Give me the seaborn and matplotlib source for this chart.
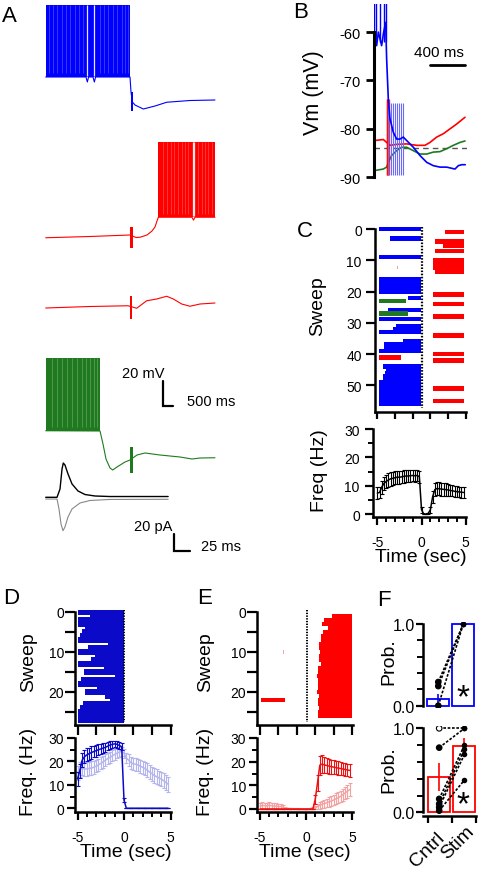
import numpy as np
import pandas as pd
import matplotlib
matplotlib.use("Agg")
import matplotlib.pyplot as plt
import seaborn as sns

# ============================ DATA ============================
# ---- Panel A: membrane potential traces (t = ms from stimulus, v = mV)
A_blue_t = [-4215, -2200, -2133, -2070, -1850, -1783, -1720, 0, 50, 120, 250, 665, 1250, 1835, 3000, 4250]
A_blue_v = [-60, -60, -64, -60, -60, -64, -60, -60, -72, -80, -82.4, -85.6, -83.2, -80.2, -78.8, -78.4]
A_red1_t = [-4215, -2000, 0, 300, 500, 850, 1100, 1250, 1350, 1415, 3100, 3175, 3250, 4250]
A_red1_v = [-83.6, -82.6, -81.4, -83.4, -83.2, -81.4, -78.2, -75.0, -70.2, -67.2, -67.2, -69.5, -67.2, -67.2]
A_red2_t = [-4215, -2000, -100, 335, 835, 1335, 1835, 2165, 2585, 3000, 3500, 4250]
A_red2_v = [-83.8, -82.6, -82.0, -84.0, -78.0, -76.6, -74.4, -76.6, -80.6, -82.4, -80.6, -79.8]
A_green_t = [-4215, -1500, -1350, -1200, -1000, -865, -650, -250, 0, 350, 750, 1500, 2500, 3100, 3500, 4250]
A_green_v = [-64.6, -64.8, -75.2, -87.2, -94.4, -96.0, -93.6, -89.6, -88.0, -84.0, -82.4, -84.0, -85.6, -87.2, -86.4, -86.2]
# spiking epochs: (start ms, end ms, trough mV, peak mV)
A_blue_spk = (-4215, 0, -60, -2)
A_red1_spk = (1415, 4250, -67.2, -7.2)
A_green_spk = (-4215, -1500, -64.6, -6.6)
# pauses between spikes (ms): clear and faint
A_blue_gap_strong = [-2133, -1783]
A_blue_gap_faint = [-4033, -3833, -3633, -3417, -3217, -3000, -2750, -2533, -2333, -1500, -1300, -1083, -833, -633, -417, -250, -117]
A_red1_gap_strong = [3133, 3217]
A_red1_gap_faint = [1667, 1833, 2033, 2200, 2417, 2583, 2750, 2917, 3417, 3583, 3750, 3917, 4083]
A_green_gap_faint = [-3917, -3667, -3417, -3167, -2917, -2667, -2417, -2200, -2000, -1800, -1633]
# stimulus artefacts: (start ms, end ms, low mV, high mV)
A_blue_art = (60, 150, -87.0, -72.0)
A_red1_art = (20, 150, -91.8, -75.0)
A_red2_art = (0, 120, -92.6, -74.0)
A_green_art = (20, 150, -98.4, -77.4)
# synaptic currents (t = ms, pA)
A_pscA_t = [0, 18, 22.8, 26, 28, 30.7, 35.5, 41.9, 51.4, 62.6, 78.5, 102, 195]
A_pscA_i = [0, 0, 9.6, 32.7, 39.6, 37.3, 27.0, 15.4, 7.3, 3.2, 1.5, 0.9, 0.9]
A_pscB_t = [0, 18, 21.2, 24.4, 27.5, 30.7, 35.5, 41.9, 54.6, 70.5, 102, 195]
A_pscB_i = [-2, -2, -13.5, -30.9, -38.6, -34.3, -22.8, -13.5, -6.6, -3.7, -2.5, -2.3]

# ---- Panel B: overlay (t = ms, v = mV)
B_blue_t = [0, 11, 30, 50, 87, 110, 133, 144, 163, 182, 220, 258, 296, 334, 372, 448, 524, 600, 676, 752, 828, 923, 961, 1000, 1040]
B_blue_v = [-60, -60, -62.8, -60, -62.8, -60, -58, -65.5, -73.8, -77.9, -80.7, -82.1, -82.1, -81.7, -82.4, -83.8, -85.5, -86.9, -87.6, -87.9, -87.9, -88.3, -87.6, -87.4, -87.4]
B_blue_spikes = [5, 19, 68, 118, 133]
B_red_t = [11, 106, 144, 182, 258, 372, 486, 581, 638, 714, 790, 866, 942, 1037]
B_red_v = [-82.4, -82.2, -82.8, -83.4, -83.2, -83.1, -83.4, -83.4, -82.8, -81.7, -81.0, -80.0, -79.0, -77.6]
B_green_t = [11, 106, 144, 163, 201, 258, 315, 372, 448, 524, 600, 676, 752, 828, 904, 980, 1037]
B_green_v = [-88.6, -88.3, -87.9, -86.9, -85.5, -84.5, -83.8, -83.8, -84.5, -85.2, -85.2, -84.8, -84.7, -84.1, -83.4, -82.8, -82.5]
B_stim_red = [144, 152, 160, 168]
B_stim_blue = [163, 190, 217, 239, 258, 288, 311, 334]
B_threshold = -84.0
B_yticks = [-90, -80, -70, -60]

# ---- Panel C raster: (sweep, start s, end s)
C_blue = [(0, -4.82, -0.05), (3, -3.62, -0.05), (9, -4.82, -0.05),
          (16, -4.82, -0.05), (17, -4.82, -0.05), (18, -4.82, -0.05), (19, -4.82, -0.05), (20, -4.82, -0.05),
          (22, -1.54, -0.05), (25.9, -3.8, -0.05), (28.8, -4.82, -0.05),
          (31, -2.86, -0.05), (32, -3.24, -0.05), (33, -4.82, -0.05),
          (35.8, -2.1, -0.05), (36.9, -4.26, -0.05), (38, -4.26, -0.05), (39, -4.82, -0.05),
          (44, -4.4, -0.05), (45, -4.0, -0.05), (46, -4.1, -0.05), (47, -4.4, -0.05), (48, -4.4, -0.05),
          (49, -4.82, -0.05), (50, -4.82, -0.05), (51, -4.82, -0.05), (52, -4.82, -0.05), (53, -4.82, -0.05),
          (54, -4.82, -0.05), (55, -4.82, -0.05), (56, -4.82, -0.05)]
C_green = [(23, -4.82, -1.73), (27, -4.82, -1.54)]
C_red = [(41, -4.82, -2.37),
         (1, 2.6, 4.86), (4, 1.58, 4.86), (5.4, 2.41, 4.86), (7, 1.58, 4.86), (10, 1.28, 4.86),
         (11.3, 1.28, 4.86), (12.5, 1.3, 4.86), (13.7, 1.58, 4.86), (21, 1.28, 4.86), (24, 1.28, 4.86),
         (28, 1.28, 4.86), (34, 1.28, 4.86), (40, 1.28, 4.86), (42, 1.28, 4.86), (51, 1.28, 4.86), (55, 1.28, 4.86)]
C_pink = [(12.3, -2.75)]

# ---- Panel D raster: spike-train start per sweep (ends at stimulus)
D_start = [-4.95, -3.7, -4.95, -4.95, -4.2, -4.55, -4.75, -4.95, -1.7, -3.9, -4.95, -3.1, -3.6, -4.95,
           -2.2, -4.3, -0.97, -4.6, -4.95, -2.9, -4.2, -2.04, -1.5, -4.37, -4.7, -4.95, -4.95, -4.95]
# ---- Panel E raster: spike-train start per sweep 1..26 (ends at 5 s)
E_start = [2.8, 2.0, 1.7, 2.4, 1.9, 1.6, 1.6, 1.4, 1.4, 1.5, 1.4, 1.4, 1.6, 1.3, 1.3, 1.2, 1.3,
           1.3, 1.3, 1.2, 1.4, 1.3, 1.3, 1.4, 1.3, 1.3]
E_left = [(22, -4.9, -2.3)]
E_pink = [(10, -2.55)]

# ---- Frequency histograms (0.25 s bins from -5 s)
FREQ_T = np.arange(-5.0, 5.0, 0.25)
C_freq = [7.4, 7.6, 9.5, 10.8, 11.5, 12.0, 12.4, 12.6, 12.8, 13.0, 13.0, 13.1, 13.3, 13.4, 13.4, 13.5, 13.6, 13.5, 13.6, 13.2,
          1.5, 0.0, 0.0, 0.2, 1.5, 6.0, 8.6, 9.0, 8.9, 8.8, 8.7, 8.6, 8.5, 8.3, 8.2, 8.0, 7.9, 7.8, 7.7, 7.6]
C_err = [2.0, 2.1, 2.3, 2.4, 2.4, 2.4, 2.4, 2.3, 2.3, 2.3, 2.3, 2.2, 2.2, 2.2, 2.2, 2.1, 2.1, 2.1, 2.1, 2.1,
         1.0, 0.0, 0.0, 0.3, 1.0, 2.0, 2.4, 2.4, 2.3, 2.3, 2.2, 2.2, 2.1, 2.1, 2.0, 2.0, 2.0, 1.9, 1.9, 1.9]
D_stim = [12.5, 16.0, 20.5, 22.0, 22.8, 23.3, 23.8, 24.2, 24.6, 25.0, 25.3, 25.7, 26.0, 26.5, 27.0, 27.3, 27.5, 27.3, 26.8, 26.3,
          3.5, 0, 0, 0, 0, 0, 0, 0, 0, 0, 0, 0, 0, 0, 0, 0, 0, 0, 0, 0]
D_stim_err = [2.8, 3.0, 3.0, 2.8, 2.8, 2.6, 2.6, 2.5, 2.5, 2.4, 2.3, 2.2, 2.0, 1.8, 1.6, 1.5, 1.4, 1.4, 1.5, 1.6,
              0.9, 0, 0, 0, 0, 0, 0, 0, 0, 0, 0, 0, 0, 0, 0, 0, 0, 0, 0, 0]
D_ctrl = [15.0, 16.5, 17.0, 16.8, 16.8, 17.0, 17.2, 17.5, 18.0, 18.5, 19.2, 19.8, 20.5, 21.2, 21.8, 22.4, 23.0, 23.5, 24.0, 24.2,
          23.5, 21.5, 20.5, 19.5, 19.0, 18.8, 18.5, 18.0, 17.5, 17.0, 16.3, 15.5, 14.8, 14.0, 13.5, 13.0, 12.5, 11.8, 11.0, 10.3]
D_ctrl_err = [3.0, 3.2, 3.0, 2.9, 2.9, 2.8, 2.8, 2.8, 2.7, 2.7, 2.6, 2.6, 2.5, 2.5, 2.4, 2.3, 2.2, 2.1, 2.0, 2.0,
              2.0, 2.3, 2.5, 2.6, 2.6, 2.7, 2.7, 2.8, 2.8, 2.9, 2.9, 3.0, 3.0, 3.0, 3.1, 3.1, 3.1, 3.2, 3.2, 3.2]
E_stim = [0, 0, 0, 0, 0, 0, 0, 0, 0, 0, 0, 0, 0, 0, 0, 0, 0, 0, 0, 0, 0, 0, 0, 0,
          4.0, 11.0, 18.5, 19.0, 18.6, 18.4, 18.1, 17.9, 17.7, 17.5, 17.3, 17.1, 16.9, 16.7, 16.5, 16.3]
E_stim_err = [0, 0, 0, 0, 0, 0, 0, 0, 0, 0, 0, 0, 0, 0, 0, 0, 0, 0, 0, 0, 0, 0, 0, 0,
              2.0, 3.5, 4.0, 3.8, 3.5, 3.3, 3.2, 3.0, 3.0, 2.9, 2.8, 2.8, 2.7, 2.7, 2.6, 2.6]
E_ctrl = [1.2, 1.5, 1.4, 1.3, 1.6, 1.4, 1.2, 1.3, 1.0, 1.1, 0.8, 0.4, 0.2, 0.2, 0.1, 0.1, 0.1, 0.0, 0.0, 0.0,
          0.0, 0.0, 0.2, 0.3, 0.5, 1.0, 1.5, 2.0, 2.3, 2.6, 3.0, 3.3, 3.8, 4.3, 4.8, 5.3, 6.0, 6.8, 7.5, 8.2]
E_ctrl_err = [1.2, 1.3, 1.3, 1.2, 1.4, 1.3, 1.2, 1.2, 1.0, 1.0, 0.8, 0.5, 0.3, 0.3, 0.2, 0.2, 0.2, 0, 0, 0,
              0, 0, 0.3, 0.4, 0.6, 1.0, 1.3, 1.5, 1.7, 1.8, 2.0, 2.1, 2.2, 2.3, 2.4, 2.5, 2.6, 2.7, 2.8, 2.9]

# ---- Panel F: probabilities
F_cats = ["Cntrl", "Stim"]
F_top_mean = [0.08, 1.0]
F_top_err = [0.06, 0.0]
F_top_ctrl = [0.29, 0.24, 0.0]
F_top_stim = [1.0, 1.0, 1.0]
F_bot_mean = [0.42, 0.79]
F_bot_err = [0.17, 0.09]
F_bot_ctrl = [1.0, 0.77, 0.16, 0.10, 0.06, 0.02]
F_bot_stim = [1.0, 1.0, 0.80, 0.75, 0.69, 0.385]

# ============================ STYLE ============================
BLUE, RED, GREEN = "#0000ff", "#ff0000", "#1f7a1f"
DBLUE, LBLUE = "#0a0ac8", "#b5b5ee"
DRED, LRED = "#ee1111", "#f4a3a3"

sns.set_theme(style="ticks")
plt.rcParams['font.family'] = ['Liberation Sans', 'DejaVu Sans']
plt.rcParams['axes.unicode_minus'] = False

W, H = 482, 870
fig = plt.figure(figsize=(W / 100, H / 100), dpi=100)
fig.patch.set_facecolor('white')


def R(x0, y0, x1, y1):
    return [x0 / W, 1 - y1 / H, (x1 - x0) / W, (y1 - y0) / H]


def T(x, y, s, size=14, rot=0, ha='center', va='center', **kw):
    fig.text(x / W, 1 - y / H, s, fontsize=size, rotation=rot, ha=ha, va=va, color='black', **kw)


def style(ax, spines=('left', 'bottom'), lw=1.6):
    ax.set_facecolor('none')
    for k, sp in ax.spines.items():
        sp.set_visible(k in spines)
        sp.set_linewidth(lw)
        sp.set_color('black')
    ax.grid(False)
    ax.set_xlabel('')
    ax.set_ylabel('')
    ax.tick_params(which='major', direction='out', length=5.5, width=1.4,
                   color='black', labelcolor='black', labelsize=10, pad=2)
    ax.tick_params(which='minor', direction='out', length=3, width=1.2, color='black')


def line(ax, x, y, color, lw=0.8, **kw):
    sns.lineplot(x=list(x), y=list(y), ax=ax, color=color, lw=lw, sort=False, estimator=None, **kw)


# ============================ PANEL A ============================
axA = fig.add_axes(R(40, 0, 220, 480))
axA.set_xlim(-4500, 4500)
axA.set_ylim(-384, 0)
axA.axis('off')
A_traces = [
    (A_blue_t, A_blue_v, BLUE, -2.4, A_blue_spk, A_blue_gap_strong, A_blue_gap_faint, A_blue_art),
    (A_red1_t, A_red1_v, RED, -107.4, A_red1_spk, A_red1_gap_strong, A_red1_gap_faint, A_red1_art),
    (A_red2_t, A_red2_v, RED, -163.4, None, [], [], A_red2_art),
    (A_green_t, A_green_v, GREEN, -280.8, A_green_spk, [], A_green_gap_faint, A_green_art),
]
for t, v, c, off, spk, gs, gf, art in A_traces:
    line(axA, t, np.array(v) + off, c, lw=0.8)
    if spk is not None:
        s0, s1, b, p = spk
        axA.fill_between([s0, s1], [b + off] * 2, [p + off] * 2, color=c, lw=0)
        if gf:
            axA.vlines(gf, b + off + 3, p + off, color='white', lw=0.5, alpha=0.3)
        if gs:
            axA.vlines(gs, b + off + 1, p + off, color='white', lw=0.9, alpha=0.9)
    a0, a1, lo, hi = art
    axA.fill_between([a0, a1], [lo + off] * 2, [hi + off] * 2, color=c, lw=0)
axA.plot([1665, 1665, 2165], [-305.4, -325.4, -325.4], color='black', lw=1.6, solid_joinstyle='miter')

axI = fig.add_axes(R(40, 450, 245, 560))
axI.set_xlim(-9.08, 317.4)
axI.set_ylim(-71.3, 55.8)
axI.axis('off')
line(axI, A_pscB_t, A_pscB_i, '#888888', lw=0.8)
line(axI, A_pscA_t, A_pscA_i, 'black', lw=1.0)
axI.plot([204.8, 204.8, 229.8], [-42.4, -62.4, -62.4], color='black', lw=1.6, solid_joinstyle='miter')

T(2, 17, 'A', size=16, ha='left')
T(143.3, 374, '20 mV', size=10.5)
T(211, 402.5, '500 ms', size=10.5)
T(153, 526.7, '20 pA', size=10.5)
T(221, 546.7, '25 ms', size=10.5)

# ============================ PANEL B ============================
axB = fig.add_axes(R(374, 5, 467, 180.7))
axB.set_xlim(0, 1060)
axB.set_ylim(-90.5, -54.2)
style(axB, spines=('left',), lw=2.2)
axB.spines['left'].set_bounds(-90, -60)
axB.set_yticks(B_yticks)
axB.set_yticklabels([str(v) for v in B_yticks])
axB.set_xticks([])
axB.tick_params(axis='y', length=6, width=2.0, labelsize=10.5, pad=3.5)
axB.hlines(B_threshold, 0, 1060, color='#555555', lw=1.0, linestyles=(0, (4, 3)))
line(axB, B_green_t, B_green_v, GREEN, lw=1.2)
line(axB, B_red_t, B_red_v, RED, lw=1.2)
axB.vlines(B_stim_red, -89.5, -73.8, color=RED, lw=1.0, alpha=0.8)
axB.vlines(B_stim_blue, -89.5, -74.6, color='#6a6aff', lw=0.8)
line(axB, B_blue_t, B_blue_v, BLUE, lw=1.2)
axB.vlines(B_blue_spikes, -62, -40, color=BLUE, lw=1.0)
axB.plot([640, 1040], [-66.7, -66.7], color='black', lw=2.0)
T(439, 53, '400 ms', size=11)
T(293, 12.5, 'B', size=16, ha='left')
T(314, 93, 'Vm (mV)', size=15.5, rot=90)

# ============================ PANEL C ============================
ROWH = 1.45
axC = fig.add_axes(R(375, 228, 466, 413))
axC.set_xlim(-5.26, 5.03)
axC.set_ylim(58.5, -0.64)
style(axC, lw=1.8)
axC.spines['left'].set_bounds(0, 58.5)
for rows, c in ((C_blue, BLUE), (C_green, GREEN), (C_red, RED)):
    for sw, st, en in rows:
        axC.barh(sw, en - st, left=st, height=ROWH, color=c, lw=0)
for sw, st in C_pink:
    axC.barh(sw, 0.1, left=st, height=1.2, color=LRED, lw=0)
axC.plot([0, 0], [-0.5, 57.3], color='black', lw=1.6, ls=(0, (0.7, 0.7)))
axC.set_yticks([0, 10, 20, 30, 40, 50])
axC.set_xticks([-5, -3, -1, 1, 3, 5])
axC.set_xticklabels([])
axC.tick_params(axis='y', length=6.5, width=1.6, pad=3)
axC.tick_params(axis='x', length=5, width=1.6)

axCf = fig.add_axes(R(373, 430, 466, 517.5))
axCf.set_xlim(-5.49, 5.03)
axCf.set_ylim(-0.88, 30)
style(axCf, lw=1.8)
axCf.spines['bottom'].set_bounds(-5.49, 5)
line(axCf, FREQ_T, C_freq, 'black', lw=1.1)
axCf.errorbar(FREQ_T, C_freq, yerr=C_err, fmt='none', ecolor='black', elinewidth=0.8, capsize=1.6, capthick=0.8)
axCf.set_yticks([0, 10, 20, 30])
axCf.set_yticks([5, 15, 25], minor=True)
axCf.set_xticks([-5, 0, 5])
axCf.set_xticklabels(['-5', '0', '5'])
axCf.set_xticks([-4, -3, -2, -1, 1, 2, 3, 4], minor=True)
axCf.tick_params(which='major', length=6, width=1.6)
axCf.tick_params(axis='y', pad=3.5)
axCf.tick_params(axis='x', pad=7)
axCf.tick_params(which='minor', length=3.5, width=1.4)
T(297, 232, 'C', size=16, ha='left')
T(317.5, 306, 'Sweep', size=14, rot=90)
T(319, 471, 'Freq (Hz)', size=14, rot=90)
T(421, 558, 'Time (sec)', size=14)


# ============================ PANEL D / E ============================
def freq_series(ax, y, err, color, lw=1.1):
    line(ax, FREQ_T, y, color, lw=lw)
    ax.errorbar(FREQ_T, y, yerr=err, fmt='none', ecolor=color, elinewidth=0.8, capsize=1.6, capthick=0.8)


def raster_axes(x0, x1, zero_px, pxs):
    ax = fig.add_axes(R(x0, 611, x1, 726))
    ax.set_xlim((x0 - zero_px) / pxs, (x1 - zero_px) / pxs)
    ax.set_ylim(28.25, -0.5)
    style(ax, lw=1.8)
    ax.spines['left'].set_bounds(0, 28.25)
    ax.set_yticks([0, 10, 20])
    ax.set_yticks([5, 15, 25], minor=True)
    ax.set_xticks([-5, -3, -1, 1, 3, 5])
    ax.set_xticklabels([])
    ax.tick_params(which='major', length=7, width=1.6)
    ax.tick_params(which='minor', length=7, width=1.6)
    ax.tick_params(axis='y', pad=1)
    return ax


def freq_axes(x0, x1, zero_px, pxs, ybot, y0px, y30px):
    ppu = (y0px - y30px) / 30.0
    ax = fig.add_axes(R(x0, y30px, x1, ybot))
    ax.set_xlim((x0 - zero_px) / pxs, (x1 - zero_px) / pxs)
    ax.set_ylim(-(ybot - y0px) / ppu, 30)
    style(ax, lw=1.8)
    ax.set_yticks([0, 10, 20, 30])
    ax.set_yticks([5, 15, 25], minor=True)
    ax.set_xticks([-5, 0, 5])
    ax.set_xticklabels(['-5', '0', '5'])
    ax.set_xticks([-4, -3, -2, -1, 1, 2, 3, 4], minor=True)
    ax.tick_params(which='major', length=6, width=1.6)
    ax.tick_params(which='minor', length=3.5, width=1.4)
    ax.tick_params(axis='y', pad=2)
    ax.tick_params(axis='x', pad=7)
    return ax


# D
axD = raster_axes(75, 171.4, 124, 9.3)
for sw, st in enumerate(D_start):
    axD.barh(sw, -0.05 - st, left=st, height=1.5, color=DBLUE, lw=0)
axD.plot([0, 0], [-0.5, 27.5], color='black', lw=1.4, ls=(0, (0.7, 0.7)))
axDf = freq_axes(75, 171.4, 124, 9.3, 812.7, 809.3, 739)
freq_series(axDf, D_ctrl, D_ctrl_err, LBLUE)
freq_series(axDf, D_stim, D_stim_err, DBLUE)
T(3, 598, 'D', size=16, ha='left')
T(28.3, 662, 'Sweep', size=14, rot=90)
T(28.3, 772, 'Freq. (Hz)', size=14, rot=90)
T(126, 853, 'Time (sec)', size=14)

# E
axE = raster_axes(257.3, 353, 306, 9.2)
for i, st in enumerate(E_start):
    axE.barh(i + 1, 4.95 - st, left=st, height=0.78, color=RED, lw=0)
for sw, st, en in E_left:
    axE.barh(sw, en - st, left=st, height=0.9, color=RED, lw=0)
for sw, st in E_pink:
    axE.barh(sw, 0.12, left=st, height=1.0, color=LRED, lw=0)
axE.plot([0.1, 0.1], [-0.5, 27.5], color='black', lw=1.4, ls=(0, (0.7, 0.7)))
axEf = freq_axes(257.3, 353, 306, 9.2, 813.4, 810, 739)
freq_series(axEf, E_ctrl, E_ctrl_err, LRED)
freq_series(axEf, E_stim, E_stim_err, DRED)
T(197, 598, 'E', size=16, ha='left')
T(205.7, 662, 'Sweep', size=14, rot=90)
T(205, 772, 'Freq. (Hz)', size=14, rot=90)
T(305, 853, 'Time (sec)', size=14)


# ============================ PANEL F ============================
def prob_axes(rect_px, ylim, xlim, color, means, errs, ctrl, stim, open_first=False, bottom=False):
    ax = fig.add_axes(R(*rect_px))
    sns.barplot(x=F_cats, y=means, ax=ax, fill=False, color=color, width=0.87,
                linewidth=1.3, errorbar=None)
    for p in ax.patches:
        p.set_edgecolor(color)
        p.set_facecolor('white')
    ax.set_xlim(*xlim)
    ax.set_ylim(*ylim)
    style(ax, spines=('left', 'bottom') if bottom else ('left',), lw=1.8)
    ax.spines['left'].set_bounds(0, 1)
    ax.vlines([0, 1], np.array(means) - np.array(errs), np.array(means) + np.array(errs), color=color, lw=1.2)
    for a, b in zip(ctrl, stim):
        ax.plot([0, 1], [a, b], color='black', lw=1.2, ls=(0, (1.6, 1.0)), zorder=4)
    fc = ['white' if (open_first and i == 0) else 'black' for i in range(len(ctrl))]
    sns.scatterplot(x=[0] * len(ctrl), y=ctrl, ax=ax, color='black', s=16, zorder=5, linewidth=0.8,
                    edgecolor='black', facecolor=fc, legend=False)
    sns.scatterplot(x=[1] * len(stim), y=stim, ax=ax, color='black', s=16, zorder=5, linewidth=0,
                    legend=False)
    ax.set_yticks([0, 1])
    ax.set_yticklabels(['0.0', '1.0'])
    ax.set_yticks([0.2, 0.4, 0.6, 0.8], minor=True)
    ax.tick_params(axis='y', which='major', length=5, width=1.6, labelsize=11.5, pad=1)
    ax.tick_params(axis='y', which='minor', length=4, width=1.4)
    ax.set_xlabel('')
    ax.set_ylabel('')
    if bottom:
        ax.spines['bottom'].set_bounds(xlim[0], 1.44)
        ax.set_xticks([-0.44, 0.49, 1.44])
        ax.set_xticklabels([])
        ax.tick_params(axis='x', which='major', length=5, width=1.6)
    else:
        ax.set_xticks([])
    return ax


axF1 = prob_axes((423.3, 622.55, 478, 709.15), (-0.03, 1.03), (-0.6, 1.588), BLUE,
                 F_top_mean, F_top_err, F_top_ctrl, F_top_stim)
axF2 = prob_axes((423.3, 726.8, 478, 816.7), (-0.04, 1.03), (-0.628, 1.534), RED,
                 F_bot_mean, F_bot_err, F_bot_ctrl, F_bot_stim, open_first=True, bottom=True)
# rotated category labels, anchored at their upper-right end
for (xa, ya), lab in zip([(436, 830), (466, 823)], F_cats):
    fig.text(xa / W, 1 - ya / H, lab, fontsize=14, rotation=45, ha='right', va='top',
             rotation_mode='anchor', color='black')
T(463.3, 699, '*', size=24)
T(463.3, 806, '*', size=24)
T(377, 601, 'F', size=16, ha='left')
T(389, 662, 'Prob.', size=14, rot=90)
T(389, 770, 'Prob.', size=14, rot=90)

fig.savefig('out.png', dpi=100, facecolor='white')
